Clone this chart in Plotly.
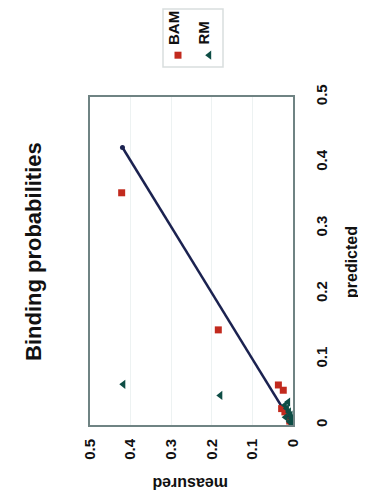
import plotly.graph_objects as go

# Data (measured, predicted)
bam_measured = [0.422, 0.184, 0.036, 0.024, 0.028, 0.020, 0.008, 0.003]
bam_predicted = [0.354, 0.145, 0.061, 0.053, 0.025, 0.020, 0.006, 0.001]
rm_measured = [0.418, 0.179, 0.020, 0.015, 0.010, 0.006, 0.004, 0.008, 0.002, 0.012, 0.018, 0.001]
rm_predicted = [0.062, 0.045, 0.030, 0.025, 0.020, 0.015, 0.010, 0.005, 0.003, 0.035, 0.012, 0.001]
fit_measured = [0.0, 0.42]
fit_predicted = [0.0, 0.423]
tick_vals = [0, 0.1, 0.2, 0.3, 0.4, 0.5]
tick_text = ["0", "0.1", "0.2", "0.3", "0.4", "0.5"]

W, H = 366, 501
OFF = 8  # page body margin
def px(x):
    return (x - OFF) / W
def py(y):
    return 1 - (y - OFF) / H

FONT = "Liberation Sans, Arial, sans-serif"
RED = "#c22a1e"
TEAL = "#0e4d45"

fig = go.Figure()
fig.add_trace(go.Scatter(x=fit_measured, y=fit_predicted, mode="lines+markers",
                         line=dict(color="#1b2250", width=2.5),
                         marker=dict(color="#1b2250", size=5), showlegend=False))
fig.add_trace(go.Scatter(x=bam_measured, y=bam_predicted, mode="markers", name="BAM",
                         marker=dict(symbol="square", color=RED, size=7), showlegend=False))
fig.add_trace(go.Scatter(x=rm_measured, y=rm_predicted, mode="markers", name="RM",
                         marker=dict(symbol="triangle-left", color=TEAL, size=8), showlegend=False))
# legend markers on an overlay axis
fig.add_trace(go.Scatter(x=[0.25], y=[0.2], xaxis="x2", yaxis="y2", mode="markers",
                         marker=dict(symbol="square", color=RED, size=7), showlegend=False))
fig.add_trace(go.Scatter(x=[0.77], y=[0.2], xaxis="x2", yaxis="y2", mode="markers",
                         marker=dict(symbol="triangle-left", color=TEAL, size=8), showlegend=False))

tickfont = dict(family=FONT, size=15, color="#111", weight="bold")
fig.update_layout(
    width=W, height=H,
    showlegend=False,
    margin=dict(l=0, r=0, t=0, b=0, pad=0, autoexpand=False),
    paper_bgcolor="white", plot_bgcolor="white",
    xaxis=dict(domain=[px(90), px(293)], range=[0.5, 0], tickvals=tick_vals, ticktext=tick_text,
               tickangle=-90, tickfont=tickfont, showgrid=True, gridcolor="#edf2f2", gridwidth=1,
               zeroline=False, showline=True, mirror=True, linecolor="#6f8383", linewidth=2,
               ticks="", ticklabelstandoff=6, anchor="y", automargin=False),
    yaxis=dict(domain=[py(425), py(97)], range=[0, 0.5], tickvals=tick_vals, ticktext=tick_text,
               side="right", tickangle=-90, tickfont=tickfont, showgrid=False, zeroline=False,
               showline=True, mirror=True, linecolor="#6f8383", linewidth=2, ticks="",
               ticklabelstandoff=14, anchor="x", automargin=False),
    xaxis2=dict(domain=[px(163), px(223)], range=[0, 1], visible=False, anchor="y2"),
    yaxis2=dict(domain=[py(67), py(8)], range=[0, 1], visible=False, anchor="x2"),
    shapes=[dict(type="rect", xref="paper", yref="paper", x0=px(163), x1=px(223), y0=py(67), y1=py(9),
                 line=dict(color="#d9dede", width=1.5), fillcolor="rgba(0,0,0,0)")],
    annotations=[
        dict(text="Binding probabilities", x=px(33), y=py(252), xref="paper", yref="paper",
             xanchor="center", yanchor="middle",
             showarrow=False, textangle=-90, font=dict(family=FONT, size=22, color="#111", weight="bold")),
        dict(text="predicted", x=px(352), y=py(262), xref="paper", yref="paper",
             xanchor="center", yanchor="middle",
             showarrow=False, textangle=-90, font=dict(family=FONT, size=16, color="#111", weight="bold")),
        dict(text="measured", x=px(190), y=py(484), xref="paper", yref="paper",
             xanchor="center", yanchor="middle",
             showarrow=False, textangle=180, font=dict(family=FONT, size=16, color="#111", weight="bold")),
        dict(text="BAM", x=px(173), y=py(47), xref="paper", yref="paper", xanchor="center", yanchor="bottom",
             showarrow=False, textangle=-90, font=dict(family=FONT, size=15, color="#111", weight="bold")),
        dict(text="RM", x=px(203), y=py(47), xref="paper", yref="paper", xanchor="center", yanchor="bottom",
             showarrow=False, textangle=-90, font=dict(family=FONT, size=15, color="#111", weight="bold")),
    ],
)
fig.write_html("out.html")
